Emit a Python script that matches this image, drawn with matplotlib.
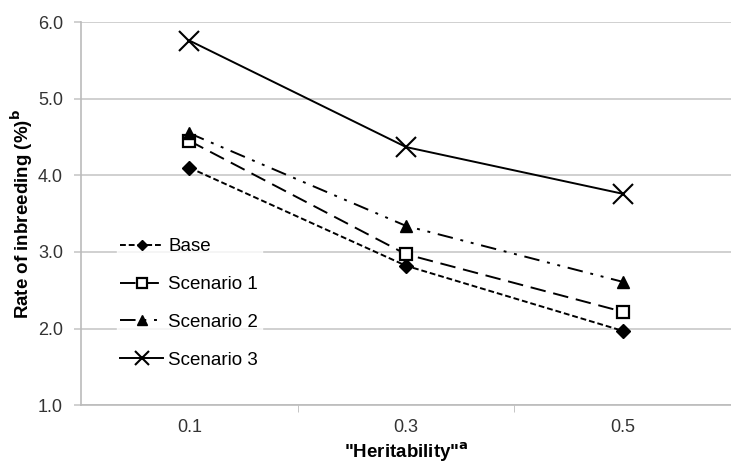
import matplotlib.pyplot as plt
import numpy as np

plt.rcParams['font.family'] = ['Liberation Sans', 'DejaVu Sans']

# Datos de la tasa de consanguinidad
heredabilidad = ['0.1', '0.3', '0.5']
base = [4.10, 2.82, 1.97]
escenario1 = [4.45, 2.97, 2.22]
escenario2 = [4.55, 3.34, 2.61]
escenario3 = [5.76, 4.37, 3.76]

fig = plt.figure(figsize=(7.31, 4.63), dpi=100)
ax = fig.add_axes([0.111, 0.125, 0.889, 0.827])

x = np.arange(len(heredabilidad))

ax.plot(x, base, color='black', lw=1.4, dashes=(3, 1.5), marker='D', ms=7,
        label='Base')
ax.plot(x, escenario1, color='black', lw=1.4, dashes=(8, 4), marker='s', ms=9,
        mfc='white', mew=1.6, label='Scenario 1')
ax.plot(x, escenario2, color='black', lw=1.4, dashes=(8, 4, 1.5, 4, 1.5, 4),
        marker='^', ms=9, label='Scenario 2')
ax.plot(x, escenario3, color='black', lw=1.4, marker='x', ms=14, mew=1.5,
        label='Scenario 3')

# Ejes y rejilla
ax.set_xlim(-0.5, 2.5)
ax.set_ylim(1.0, 6.0)
ax.set_yticks(np.arange(1.0, 6.01, 1.0))
ax.set_yticklabels(['%.1f' % v for v in np.arange(1.0, 6.01, 1.0)])
ax.set_xticks(x)
ax.set_xticklabels(heredabilidad)
ax.set_xticks([0.5, 1.5], minor=True)
ax.tick_params(axis='x', which='major', length=0, labelsize=13,
               colors='#333333', pad=10)
ax.tick_params(axis='x', which='minor', length=5, color='#bbbbbb')
ax.tick_params(axis='y', length=5, width=1.2, color='#c8c8c8', labelsize=13,
               labelcolor='#333333', pad=8)
ax.grid(axis='y', color='#c8c8c8', lw=1.2)
ax.set_axisbelow(True)
for lado in ['top', 'right']:
    ax.spines[lado].set_visible(False)
for lado in ['left', 'bottom']:
    ax.spines[lado].set_color('#bbbbbb')
    ax.spines[lado].set_linewidth(1.2)

ax.set_xlabel('"Heritability"$^{\\mathbf{a}}$', fontsize=13.5, fontweight='bold',
              labelpad=3)
ax.set_ylabel('Rate of inbreeding (%)$^{\\mathbf{b}}$', fontsize=13.5,
              fontweight='bold', labelpad=2)

leg = ax.legend(loc='upper left', bbox_to_anchor=(0.04, 0.47), frameon=True,
                fontsize=13.5, labelspacing=1.1, handlelength=2.3,
                handletextpad=0.25, borderpad=0.2, fancybox=False,
                markerscale=0.75)
leg.get_frame().set_facecolor('white')
leg.get_frame().set_edgecolor('white')

fig.savefig('out.png', dpi=100)
